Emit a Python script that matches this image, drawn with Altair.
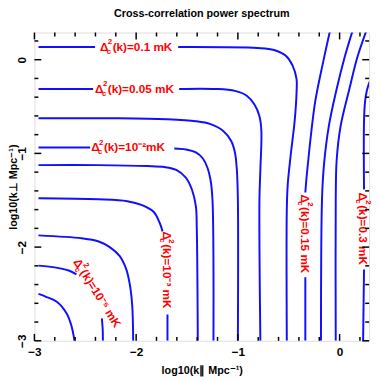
import altair as alt
import pandas as pd

# ---- contour lines (log10 k_par, log10 k_perp) ----
contours = {
    "c1": ([-2.96, -2.885, -2.78, -2.683, -2.635, -2.606],
           [-2.5, -2.531, -2.583, -2.708, -2.844, -3.0]),
    "c2a": ([-2.96, -2.788, -2.663, -2.587],
            [-2.198, -2.219, -2.25, -2.292]),
    "c2b": ([-2.337, -2.329, -2.327],
            [-2.76, -2.875, -3.0]),
    "c3": ([-2.96, -2.538, -2.375, -2.26, -2.163, -2.096, -2.058, -2.038, -2.029],
           [-1.875, -1.906, -1.9375, -2.0, -2.094, -2.24, -2.427, -2.635, -3.0]),
    "c4a": ([-2.96, -2.375, -2.087, -1.942, -1.827, -1.769, -1.74],
            [-1.479, -1.49, -1.51, -1.552, -1.625, -1.74, -1.833]),
    "c4b": ([-1.692, -1.692],
            [-2.719, -3.0]),
    "c5": ([-2.96, -2.375, -1.894, -1.721, -1.606, -1.51, -1.452, -1.413, -1.404, -1.394],
           [-1.125, -1.125, -1.135, -1.146, -1.177, -1.26, -1.385, -1.5625, -1.802, -3.0]),
    "c6a": ([-2.96, -2.452],
            [-0.9375, -0.9375]),
    "c6b": ([-1.625, -1.51, -1.413, -1.346, -1.298, -1.269, -1.25, -1.24],
            [-0.948, -0.958, -0.99, -1.052, -1.156, -1.281, -1.49, -3.0]),
    "c7": ([-2.96, -2.183, -1.702, -1.413, -1.269, -1.144, -1.067, -1.029, -1.01, -1.0, -1.0],
           [-0.625, -0.625, -0.635, -0.656, -0.6875, -0.76, -0.865, -0.99, -1.177, -1.49, -3.0]),
    "c8a": ([-2.96, -2.423],
            [-0.3125, -0.3125]),
    "c8b": ([-1.577, -1.221, -1.029, -0.913, -0.837, -0.788, -0.769, -0.779, -0.788, -0.779],
            [-0.3125, -0.3125, -0.333, -0.385, -0.479, -0.604, -0.76, -1.177, -1.49, -3.0]),
    "c9a": ([-2.96, -2.404],
            [0.135, 0.135]),
    "c9b": ([-1.587, -0.808, -0.644, -0.529, -0.462, -0.423, -0.423, -0.442, -0.481, -0.51, -0.519, -0.519],
            [0.135, 0.125, 0.104, 0.042, -0.0625, -0.208, -0.344, -0.656, -1.021, -1.333, -1.594, -3.0]),
    "c10a": ([-0.096, -0.163, -0.24, -0.288, -0.308, -0.327, -0.337],
             [0.30, -0.031, -0.448, -0.865, -1.073, -1.281, -1.417]),
    "c10b": ([-0.337, -0.337],
             [-2.323, -3.0]),
    "c11": ([0.125, 0.048, -0.029, -0.106, -0.154, -0.173, -0.183],
            [0.30, 0.021, -0.3125, -0.708, -1.125, -1.49, -3.0]),
    "c12": ([0.26, 0.173, 0.096, 0.01, -0.029, -0.038, -0.038],
            [0.30, 0.021, -0.3125, -0.708, -1.073, -1.49, -3.0]),
    "c13a": ([0.30, 0.269, 0.25, 0.24, 0.24],
             [-0.219, -0.323, -0.448, -0.656, -1.385]),
    "c13b": ([0.24, 0.231],
             [-2.24, -3.0]),
}

# ---- contour labels ----
lab_x = [-2.356, -2.404, -2.442, -1.702, -0.337, 0.231, -2.587]
lab_y = [0.135, -0.3125, -0.9375, -1.833, -1.4375, -1.417, -2.135]
lab_angle = [0, 0, 0, 90, 90, 90, 58]
lab_rest = ["(k)=0.1 mK", "(k)=0.05 mK", "(k)=10⁻²mK", "(k)=10⁻³ mK",
            "(k)=0.15 mK", "(k)=0.3 mK", "(k)=10⁻⁵ mK"]

# ---- axis ticks ----
major_ticks = [-3, -2, -1, 0]
minor_ticks = [-2.8, -2.6, -2.4, -2.2, -1.8, -1.6, -1.4, -1.2, -0.8, -0.6, -0.4, -0.2, 0.2]

W, H = 342, 315
FONT = "Liberation Sans"

rows = []
for name, (xs, ys) in contours.items():
    for i, (a, b) in enumerate(zip(xs, ys)):
        rows.append({"seg": name, "i": i, "x": a, "y": b})
df_lines = pd.DataFrame(rows)
df_lab = pd.DataFrame({"x": lab_x, "y": lab_y, "ang": lab_angle, "rest": lab_rest})

xscale = alt.Scale(domain=[-3, 0.29], nice=False, zero=False)
yscale = alt.Scale(domain=[-3, 0.29], nice=False, zero=False)
xaxis = alt.Axis(values=major_ticks, ticks=False, tickSize=0, domain=False, grid=False,
                 labelFlush=False, labelPadding=6, labelFontSize=12, labelFontWeight="bold",
                 labelFont=FONT, labelColor="black", format="d",
                 title="log10(k∥ Mpc⁻¹)", titleFont=FONT, titleFontSize=11,
                 titleFontWeight="bold", titleColor="black", titlePadding=7)
yaxis = alt.Axis(values=major_ticks, ticks=False, tickSize=0, domain=False, grid=False,
                 labelFlush=False, labelPadding=6, labelFontSize=12, labelFontWeight="bold",
                 labelFont=FONT, labelColor="black", labelAngle=270, labelAlign="center",
                 labelBaseline="bottom", format="d",
                 title="log10(k⊥ Mpc⁻¹)", titleFont=FONT, titleFontSize=11,
                 titleFontWeight="bold", titleColor="black",
                 titleX=-21, titleBaseline="middle", titleAngle=270)


def X(f):
    return alt.X(f, type="quantitative", scale=xscale, axis=xaxis)


def Y(f):
    return alt.Y(f, type="quantitative", scale=yscale, axis=yaxis)


lines = alt.Chart(df_lines).mark_line(
    color="#1010ff", strokeWidth=2, clip=True, interpolate="catmull-rom"
).encode(x=X("x"), y=Y("y"), detail="seg:N", order="i:Q")

ang = alt.Angle("ang:Q", scale=None)
txt_common = dict(color="#ff0000", font=FONT, fontWeight="bold", align="left", baseline="middle")
t_delta = alt.Chart(df_lab).mark_text(text="Δ", fontSize=12, **txt_common).encode(
    x=X("x"), y=Y("y"), angle=ang)
t_sub = alt.Chart(df_lab).mark_text(text="c", fontSize=8, dx=7, dy=5, **txt_common).encode(
    x=X("x"), y=Y("y"), angle=ang)
t_sup = alt.Chart(df_lab).mark_text(text="2", fontSize=8, dx=8, dy=-5, **txt_common).encode(
    x=X("x"), y=Y("y"), angle=ang)
t_rest = alt.Chart(df_lab).mark_text(fontSize=12, dx=13, **txt_common).encode(
    x=X("x"), y=Y("y"), angle=ang, text="rest:N")


def tick_layers(vals, length):
    d = pd.DataFrame({"t": vals})
    base = alt.Chart(d).mark_rule(color="black", strokeWidth=1.5)
    return [
        base.encode(x=X("t"), y=alt.value(0), y2=alt.value(length)),
        base.encode(x=X("t"), y=alt.value(H), y2=alt.value(H - length)),
        base.encode(y=Y("t"), x=alt.value(0), x2=alt.value(length)),
        base.encode(y=Y("t"), x=alt.value(W), x2=alt.value(W - length)),
    ]


layers = [lines, t_delta, t_sub, t_sup, t_rest] + tick_layers(major_ticks, 7) + tick_layers(minor_ticks, 4)

chart = alt.layer(*layers).properties(
    width=W, height=H,
    title=alt.TitleParams("Cross-correlation power spectrum", font=FONT, fontSize=11,
                          fontWeight="bold", color="black", anchor="middle", offset=13),
    autosize=alt.AutoSizeParams(type="none"),
    padding={"left": 27, "top": 21, "right": 5, "bottom": 36},
).configure_view(stroke="black", strokeWidth=2).configure(background="white")

chart.save("out.html", embed_options={"renderer": "svg", "actions": False})
